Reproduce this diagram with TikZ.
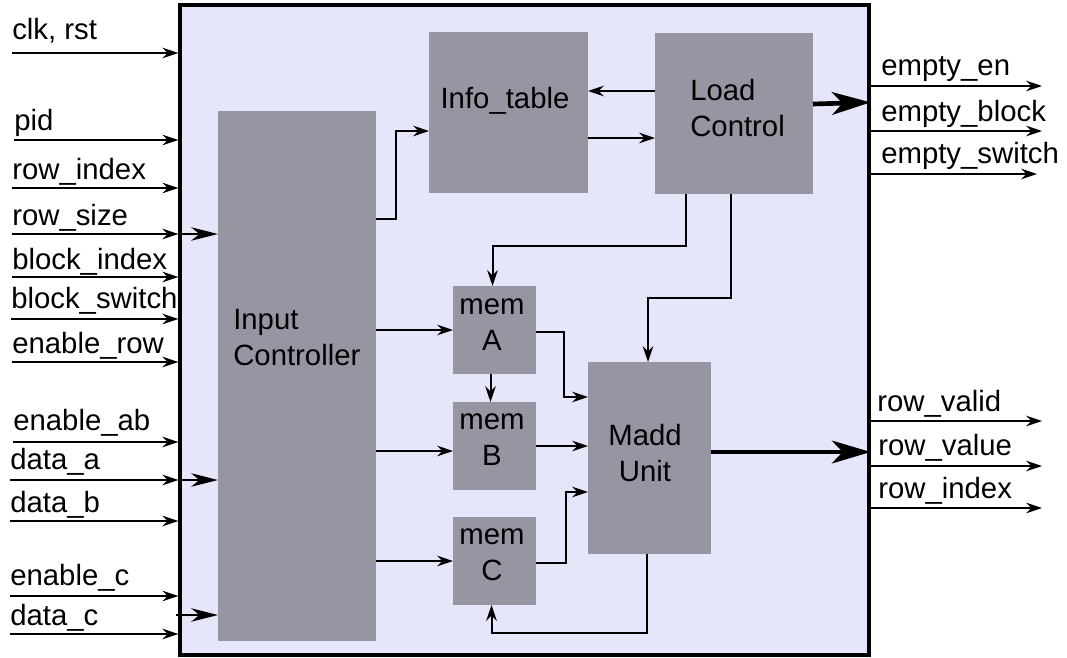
\documentclass[tikz,border=0pt]{standalone}
\usepackage{fontspec}
\setmainfont{Liberation Sans}
\usetikzlibrary{arrows.meta,calc,fit}
\definecolor{chipfill}{RGB}{230,230,250}
\definecolor{blkfill}{RGB}{150,150,162}
\begin{document}
\begin{tikzpicture}[x=0.75pt,y=-0.75pt,
  every node/.style={font=\fontsize{22}{27}\selectfont},
  blk/.style={fill=blkfill, draw=none, inner sep=0pt, outer sep=0pt},
  txt/.style={inner sep=0pt, text=black},
  arr/.style={line width=1.5pt, -{Stealth[length=12pt,width=8pt,inset=4pt]}},
  bigarr/.style={line width=3.5pt, -{Stealth[length=29pt,width=17pt,inset=8pt]}},
  midarr/.style={line width=2.2pt, -{Stealth[length=20pt,width=10pt,inset=6pt]}}
]
\useasboundingbox (0,0) rectangle (1067,657);

% outer chip
\node[fit={(180,5) (869,655)}, inner sep=0pt, fill=chipfill, draw=black, line width=2.5pt] (chip) {};

% blocks
\node[blk, fit={(218,111) (376,641)}] (ic) {};
\node[blk, fit={(429,32) (588,193)}] (info) {};
\node[blk, fit={(655,33) (813,194)}] (lc) {};
\node[blk, fit={(453,286) (536,374)}] (mA) {};
\node[blk, fit={(453,402) (536,490)}] (mB) {};
\node[blk, fit={(453,517) (536,605)}] (mC) {};
\node[blk, fit={(588,362) (711,554)}] (madd) {};

% block texts
\node[txt, align=left, anchor=west] (ictxt) at (233,338) {Input\\Controller};
\node[txt] (infotxt) at (505,101) {Info\_table};
\node[txt, align=left, anchor=west] (lctxt) at (690,108) {Load\\Control};
\node[txt, align=center] (mAtxt) at (492,325) {mem\\A};
\node[txt, align=center] (mBtxt) at (492,440) {mem\\B};
\node[txt, align=center] (mCtxt) at (492,555) {mem\\C};
\node[txt, align=center] (maddtxt) at (645,453) {Madd\\Unit};

% internal connectors
\draw[arr] ($(ic.north east)+(0,108)$) -| ($(info.north west)+(-33,99)$) -- ($(info.north west)+(0,99)$);
\draw[arr] ($(lc.north west)+(0,58)$) -- ($(info.north east)+(0,59)$);
\draw[arr] ($(info.north east)+(0,106)$) -- ($(lc.north west)+(0,105)$);
\draw[bigarr] ($(lc.north east)+(0,71)$) -- ($(chip.north east)+(0,99)$);
\draw[arr] ($(lc.south west)+(31,0)$) -- ++(0,52) -| ($(mA.north)+(-2,0)$);
\draw[arr] ($(lc.south west)+(76,0)$) -- ++(0,104) -| ($(madd.north west)+(60,0)$);
\draw[arr] (ic.east |- mA.west) -- (mA.west);
\coordinate (mBin) at ($(mB.north west)+(0,49)$);
\draw[arr] (ic.east |- mBin) -- (mBin);
\draw[arr] (ic.east |- mC.west) -- (mC.west);
\draw[arr] ($(mA.south)+(-4,0)$) -- ($(mB.north)+(-4,0)$);
\draw[arr] ($(mA.north east)+(0,46)$) -| ($(madd.north west)+(-24,35)$) -- ($(madd.north west)+(0,35)$);
\draw[arr] (mB.east) -- (madd.west |- mB.east);
\draw[arr] ($(mC.north east)+(0,46)$) -| ($(madd.north west)+(-22,130)$) -- ($(madd.north west)+(0,130)$);
\draw[arr] ($(madd.south west)+(59,0)$) -- ++(0,79) -| ($(mC.south)+(-3,0)$);
\coordinate (maddout) at ($(madd.north east)+(0,90)$);
\draw[bigarr] (maddout) -- (chip.east |- maddout);

% inputs
\foreach \k/\y/\b/\x/\t in {
  1/53/39/12/{clk, rst},
  2/140/130/14/{pid},
  3/188/179/12/{row\_index},
  4/234/225/12/{row\_size},
  5/277/269/12/{block\_index},
  6/319/308/11/{block\_switch},
  7/362/353/12/{enable\_row},
  8/442/430/13/{enable\_ab},
  9/480/469/10/{data\_a},
  10/521/512/10/{data\_b},
  11/596/585/10/{enable\_c},
  12/634/625/10/{data\_c}} {
  \coordinate (in\k) at (\x,\y);
  \draw[arr] (in\k) -- (chip.west |- in\k);
  \node[txt, anchor=base west] (inlab\k) at (\x,\b) {\t};
}
\draw[midarr] (chip.west |- in4) -- (ic.west |- in4);
\draw[midarr] (chip.west |- in9) -- (ic.west |- in9);
\coordinate (dcin) at (176,615);
\draw[midarr] (dcin) -- (ic.west |- dcin);

% outputs
\foreach \k/\y/\b/\x/\e/\t in {
  1/86/75/881/1042/{empty\_en},
  2/131/121/881/1042/{empty\_block},
  3/174/163/881/1037/{empty\_switch},
  4/421/411/877/1042/{row\_valid},
  5/466/455/878/1042/{row\_value},
  6/508/498/878/1042/{row\_index}} {
  \coordinate (out\k) at (\e,\y);
  \draw[arr] (chip.east |- out\k) -- (out\k);
  \node[txt, anchor=base west] (outlab\k) at (\x,\b) {\t};
}
\end{tikzpicture}
\end{document}
